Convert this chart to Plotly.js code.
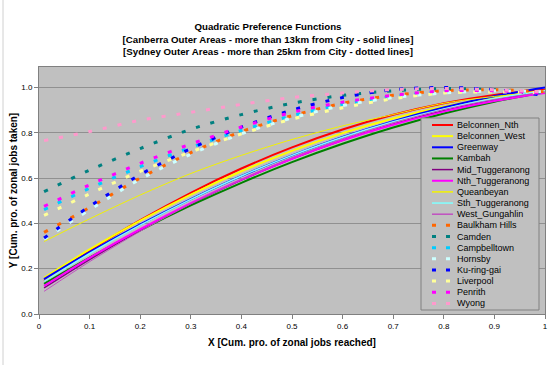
<!DOCTYPE html>
<html>
<head>
<meta charset="utf-8">
<script src="https://cdn.plot.ly/plotly-3.0.1.min.js"></script>
<style>
html,body{margin:0;padding:0;background:#fff;}
#chart{width:550px;height:365px;}
</style>
</head>
<body>
<div id="chart"></div>
<script>
// X positions (cumulative proportion of zonal jobs reached)
const xValues = [0.01, 0.1, 0.2, 0.3, 0.4, 0.5, 0.6, 0.7, 0.8, 0.9, 1.0];

// Canberra outer areas (solid lines)
const belconnenNth   = [0.146, 0.279, 0.414, 0.535, 0.642, 0.735, 0.814, 0.879, 0.930, 0.967, 0.990];
const belconnenWest  = [0.160, 0.285, 0.412, 0.527, 0.630, 0.720, 0.798, 0.863, 0.916, 0.957, 0.985];
const greenway       = [0.154, 0.273, 0.395, 0.507, 0.609, 0.700, 0.781, 0.851, 0.911, 0.961, 1.000];
const kambah         = [0.133, 0.249, 0.369, 0.479, 0.579, 0.670, 0.751, 0.823, 0.885, 0.937, 0.980];
const midTuggeranong = [0.115, 0.240, 0.369, 0.486, 0.591, 0.685, 0.767, 0.838, 0.897, 0.944, 0.980];
const nthTuggeranong = [0.124, 0.248, 0.374, 0.489, 0.593, 0.685, 0.766, 0.835, 0.893, 0.940, 0.975];
const queanbeyan     = [0.320, 0.420, 0.525, 0.620, 0.700, 0.770, 0.830, 0.880, 0.930, 0.960, 0.980];
const sthTuggeranong = [0.144, 0.267, 0.392, 0.506, 0.609, 0.700, 0.780, 0.848, 0.905, 0.951, 0.985];
const westGungahlin  = [0.100, 0.231, 0.365, 0.486, 0.594, 0.690, 0.773, 0.844, 0.902, 0.947, 0.980];

// Sydney outer areas (dotted lines)
const baulkhamHills  = [0.360, 0.470, 0.600, 0.712, 0.805, 0.875, 0.930, 0.965, 0.985, 0.990, 0.980];
const camden         = [0.540, 0.635, 0.730, 0.815, 0.880, 0.930, 0.965, 0.985, 0.995, 0.990, 0.975];
const campbelltown   = [0.460, 0.555, 0.650, 0.735, 0.810, 0.875, 0.925, 0.960, 0.980, 0.985, 0.975];
const hornsby        = [0.330, 0.460, 0.595, 0.705, 0.795, 0.865, 0.920, 0.955, 0.975, 0.985, 0.980];
const kuRingGai      = [0.335, 0.475, 0.615, 0.730, 0.825, 0.900, 0.955, 0.990, 1.000, 0.990, 0.965];
const liverpool      = [0.435, 0.530, 0.630, 0.715, 0.795, 0.860, 0.910, 0.950, 0.975, 0.980, 0.975];
const penrith        = [0.475, 0.570, 0.665, 0.750, 0.825, 0.890, 0.935, 0.965, 0.985, 0.985, 0.975];
const wyong          = [0.765, 0.805, 0.855, 0.890, 0.925, 0.955, 0.975, 0.990, 0.995, 0.990, 0.980];

const seriesNames = ['Belconnen_Nth','Belconnen_West','Greenway','Kambah','Mid_Tuggeranong',
  'Nth_Tuggeranong','Queanbeyan','Sth_Tuggeranong','West_Gungahlin',
  'Baulkham Hills','Camden','Campbelltown','Hornsby','Ku-ring-gai','Liverpool','Penrith','Wyong'];
const seriesValues = [belconnenNth, belconnenWest, greenway, kambah, midTuggeranong,
  nthTuggeranong, queanbeyan, sthTuggeranong, westGungahlin,
  baulkhamHills, camden, campbelltown, hornsby, kuRingGai, liverpool, penrith, wyong];

const DOT = '4px,11px';
const styles = [
  {color:'#FF0000', width:2,   dash:'solid'},
  {color:'#FFFF00', width:2,   dash:'solid'},
  {color:'#0000FF', width:2,   dash:'solid'},
  {color:'#008000', width:2,   dash:'solid'},
  {color:'#800080', width:1.5, dash:'solid'},
  {color:'#FF00FF', width:2,   dash:'solid'},
  {color:'#F2F200', width:1,   dash:'solid'},
  {color:'#80FFFF', width:1.5, dash:'solid'},
  {color:'#C050C0', width:1,   dash:'solid'},
  {color:'#FF6600', width:3,   dash:DOT},
  {color:'#008080', width:3,   dash:DOT},
  {color:'#00CCFF', width:3,   dash:DOT},
  {color:'#CCFFFF', width:3,   dash:DOT},
  {color:'#0000FF', width:3,   dash:DOT},
  {color:'#FFFF99', width:3,   dash:DOT},
  {color:'#FF00FF', width:3,   dash:DOT},
  {color:'#FF99CC', width:3,   dash:DOT}
];

const FONT = 'Liberation Sans, Arial, Helvetica, sans-serif';
const M = {l:39, r:5, t:67, b:51};
const W = 550, H = 365;
const PW = W - M.l - M.r, PH = H - M.t - M.b;
const px = v => (v - M.l) / PW;
const py = v => (H - M.b - v) / PH;

const traces = seriesNames.map((name, i) => ({
  type: 'scatter', mode: 'lines', name: name,
  x: xValues, y: seriesValues[i],
  line: {color: styles[i].color, width: styles[i].width, dash: styles[i].dash, shape: 'spline', smoothing: 0.8},
  showlegend: false, hoverinfo: 'x+y+name'
}));

// Custom compact legend (Excel style)
const shapes = [
  {type:'line', xref:'paper', yref:'paper', x0:px(3), x1:px(3), y0:py(0), y1:py(365),
   line:{color:'#d0d0d0', width:1}},
  {type:'rect', xref:'paper', yref:'paper', x0:px(421), x1:px(539), y0:py(118), y1:py(310),
   fillcolor:'#C0C0C0', line:{color:'#808080', width:1}, layer:'above'}
];
const annotations = [];
seriesNames.forEach((name, i) => {
  const yc = 125 + i * 11.15;
  shapes.push({type:'line', xref:'paper', yref:'paper', x0:px(432), x1:px(453), y0:py(yc), y1:py(yc),
    line:{color: styles[i].color, width: Math.max(styles[i].width, 1.5), dash: styles[i].dash === 'solid' ? 'solid' : '4px,10px'},
    layer:'above'});
  annotations.push({xref:'paper', yref:'paper', x:px(455), y:py(yc), xanchor:'left', yanchor:'middle',
    text:name, showarrow:false, font:{family:FONT, size:9, color:'#000'}});
});

const layout = {
  width: W, height: H,
  margin: M,
  paper_bgcolor: '#FFFFFF',
  plot_bgcolor: '#C0C0C0',
  showlegend: false,
  title: {
    text: '<b>Quadratic Preference Functions<br>[Canberra Outer Areas - more than 13km from City - solid lines]<br>[Sydney Outer Areas - more than 25km from City - dotted lines]</b>',
    font: {family: FONT, size: 9.7, color: '#000'},
    xref: 'container', x: 268/550, xanchor: 'center',
    yref: 'container', y: 1 - 30/365, yanchor: 'top'
  },
  xaxis: {
    range: [0, 1], dtick: 0.1, tick0: 0,
    showgrid: false, zeroline: false,
    showline: true, linecolor: '#808080', linewidth: 1, mirror: true,
    ticks: 'outside', ticklen: 4, tickcolor: '#808080',
    tickfont: {family: FONT, size: 8, color: '#000'},
    title: {text: '<b>X [Cum. pro. of zonal jobs reached]</b>', font: {family: FONT, size: 10, color: '#000'}, standoff: 9}
  },
  yaxis: {
    range: [0, 1.09], dtick: 0.2, tick0: 0, tickformat: '.1f',
    showgrid: true, gridcolor: '#909090', gridwidth: 1, zeroline: false,
    showline: true, linecolor: '#808080', linewidth: 1, mirror: true,
    ticks: 'outside', ticklen: 4, tickcolor: '#808080',
    tickfont: {family: FONT, size: 8, color: '#000'},
    title: {text: '<b>Y [Cum. pro. of zonal jobs taken]</b>', font: {family: FONT, size: 10, color: '#000'}, standoff: 1}
  },
  shapes: shapes,
  annotations: annotations
};

Plotly.newPlot('chart', traces, layout, {displayModeBar: false, staticPlot: true});
</script>
</body>
</html>
